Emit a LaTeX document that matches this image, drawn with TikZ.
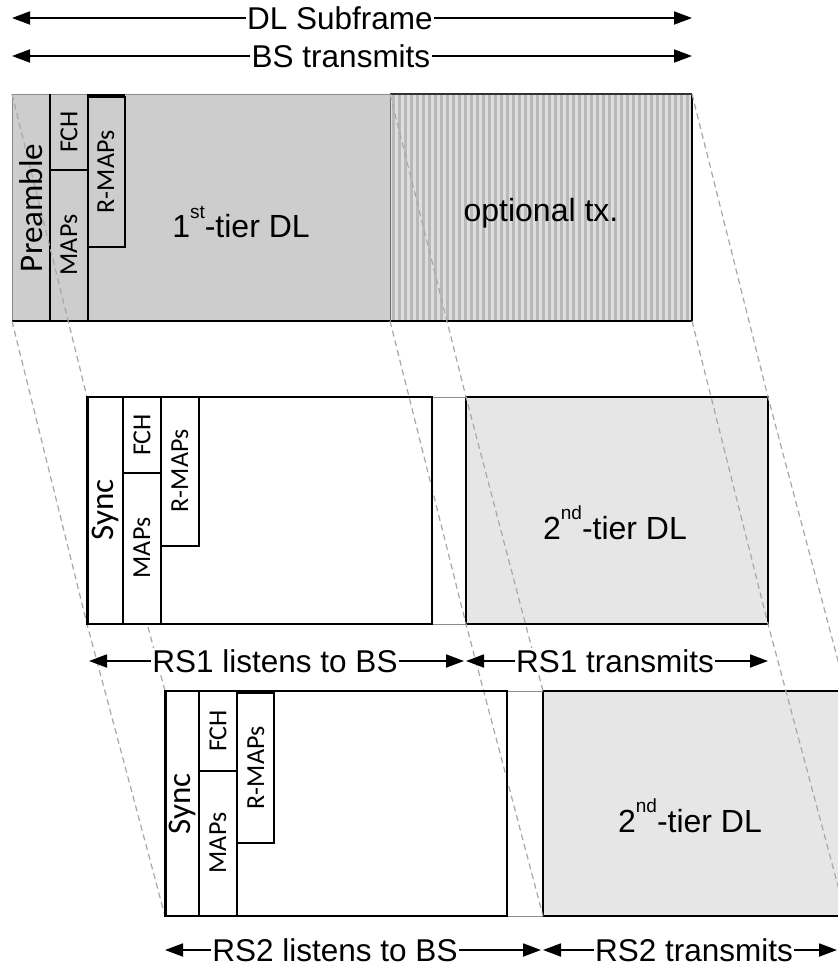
\documentclass[tikz,border=0pt]{standalone}
\usepackage{fontspec}
\setmainfont{Liberation Sans}
\newfontfamily\calfont{Carlito}
\usetikzlibrary{arrows.meta}
\definecolor{topgray}{HTML}{CDCDCD}
\definecolor{stripelight}{HTML}{DEDEDE}
\definecolor{stripedark}{HTML}{B9B9B9}
\definecolor{rsgray}{HTML}{E6E6E6}
\definecolor{dashgray}{HTML}{A8A8A8}
\definecolor{edgegray}{HTML}{8C8C8C}
\tikzset{
  dimline/.style={line width=1.8pt,{Triangle[length=18pt,width=13pt]}-{Triangle[length=18pt,width=13pt]}},
  hlab/.style={font=\fontsize{31.5}{36}\selectfont, fill=white, inner sep=1.5pt},
  boxlab/.style={font=\fontsize{32}{36}\selectfont, inner sep=0pt},
  vbig/.style={font=\calfont\fontsize{33}{38}\selectfont, rotate=90, inner sep=0pt},
  vsmall/.style={font=\calfont\fontsize{26}{30}\selectfont, rotate=90, inner sep=0pt},
  proj/.style={dashgray, line width=1.2pt, dash pattern=on 6pt off 4pt},
  frameline/.style={black, line width=1.8pt},
  subline/.style={black, line width=1.3pt},
  gapline/.style={edgegray, line width=0.8pt}
}
\newcommand{\supr}[1]{\raisebox{0.62em}{\fontsize{19}{20}\selectfont #1}}
\begin{document}
\begin{tikzpicture}[x=1pt,y=-1pt]
\clip (0,0) rectangle (838,972);
\fill[white] (0,0) rectangle (838,972);

% ---------- top frame (BS) ----------
\fill[topgray] (12,94) rectangle (390,321);
\fill[stripelight] (390,94) rectangle (692,321);
\begin{scope}
  \clip (390,94) rectangle (692,321);
  \foreach \i in {0,...,50} \fill[stripedark] ({392+6*\i},94) rectangle ({395+6*\i},321);
\end{scope}
\draw[edgegray, line width=1pt] (12,321) -- (12,94) -- (390,94);
\draw[black, line width=1.2pt] (12,321) -- (692,321);
\draw[black!80, line width=2.6pt] (390,94) -- (692,94);
\draw[black, line width=1.4pt] (692,94) -- (692,321);
\draw[edgegray!80!black, line width=1pt] (390,94) -- (390,321);
\draw[subline] (50,94) -- (50,321);
\draw[subline] (88,94) -- (88,321);
\draw[subline] (50,170) -- (88,170);
\draw[subline] (88,97) rectangle (125,247);
\draw[black, line width=2pt] (88,95) -- (125,95);

% ---------- RS1 / RS2 grey boxes ----------
\filldraw[fill=rsgray, draw=black, line width=1.8pt] (466,397) rectangle (768,624);
\filldraw[fill=rsgray, draw=black, line width=1.8pt] (543,691) rectangle (860,916);

% ---------- projection lines ----------
\draw[proj] (12,94) -- (87,397) -- (165,691);
\draw[proj] (12,321) -- (87,624) -- (165,916);
\draw[proj] (390,94) -- (466,397) -- (543,691);
\draw[proj] (390,321) -- (466,624) -- (543,916);
\draw[proj] (692,94) -- (768,397) -- (846,691);
\draw[proj] (692,321) -- (768,624) -- (846,916);

% ---------- RS1 frame ----------
\fill[white] (87,397) rectangle (161,624);
\fill[white] (161,397) rectangle (199,546);
\draw[gapline] (432,397) -- (466,397);
\draw[gapline] (432,624) -- (466,624);
\draw[frameline] (87,397) rectangle (432,624);
\draw[black, line width=3pt] (87,397) -- (87,624);
\draw[subline] (123,397) -- (123,624);
\draw[subline] (161,397) -- (161,624);
\draw[subline] (123,473) -- (161,473);
\draw[subline] (161,546) -- (199,546) -- (199,397);

% ---------- RS2 frame ----------
\fill[white] (165,691) rectangle (237,916);
\fill[white] (237,693) rectangle (274,843);
\draw[gapline] (507,691) -- (543,691);
\draw[gapline] (507,916) -- (543,916);
\draw[frameline] (165,691) rectangle (507,916);
\draw[black, line width=3pt] (165,691) -- (165,916);
\draw[subline] (199,691) -- (199,916);
\draw[subline] (237,691) -- (237,916);
\draw[subline] (199,771) -- (237,771);
\draw[subline] (237,843) -- (274,843) -- (274,693) -- (237,693);

% ---------- box labels ----------
\node[vbig] (pre) at (31,208) {Preamble};
\node[vsmall] (fch0) at (69,132) {FCH};
\node[vsmall] (map0) at (69,245) {MAPs};
\node[vsmall] (rmap0) at (106,172) {R-MAPs};
\node[boxlab] (dl1) at (241,222) {1\supr{st}-tier DL};
\node[boxlab] (opt) at (541,213) {optional tx.};

\node[vbig] (sync1) at (105,510) {Sync};
\node[vsmall] (fch1) at (142,435) {FCH};
\node[vsmall] (map1) at (142,548) {MAPs};
\node[vsmall] (rmap1) at (180,471) {R-MAPs};
\node[boxlab] (dl2a) at (615,523) {2\supr{nd}-tier DL};

\node[vbig] (sync2) at (182,804) {Sync};
\node[vsmall] (fch2) at (218,731) {FCH};
\node[vsmall] (map2) at (218,843) {MAPs};
\node[vsmall] (rmap2) at (256,768) {R-MAPs};
\node[boxlab] (dl2b) at (690,816) {2\supr{nd}-tier DL};

% ---------- dimension arrows ----------
\coordinate (aL) at (12,18);  \coordinate (aR) at (692,18);
\coordinate (bL) at (12,56);  \coordinate (bR) at (692,56);
\coordinate (cL) at (89,661); \coordinate (cR) at (464,661);
\coordinate (dL) at (466,661); \coordinate (dR) at (768,661);
\coordinate (eL) at (165,950); \coordinate (eR) at (541,950);
\coordinate (fL) at (543,950); \coordinate (fR) at (837,950);
\draw[dimline] (aL) -- (aR);
\draw[dimline] (bL) -- (bR);
\draw[dimline] (cL) -- (cR);
\draw[dimline] (dL) -- (dR);
\draw[dimline] (eL) -- (eR);
\draw[dimline] (fL) -- (fR);
\node[hlab] (tdl) at (340,18) {DL Subframe};
\node[hlab] (tbs) at (341,56) {BS transmits};
\node[hlab] (trs1l) at (275,661) {RS1 listens to BS};
\node[hlab] (trs1t) at (615,661) {RS1 transmits};
\node[hlab] (trs2l) at (335,950) {RS2 listens to BS};
\node[hlab] (trs2t) at (694,950) {RS2 transmits};
\end{tikzpicture}
\end{document}
